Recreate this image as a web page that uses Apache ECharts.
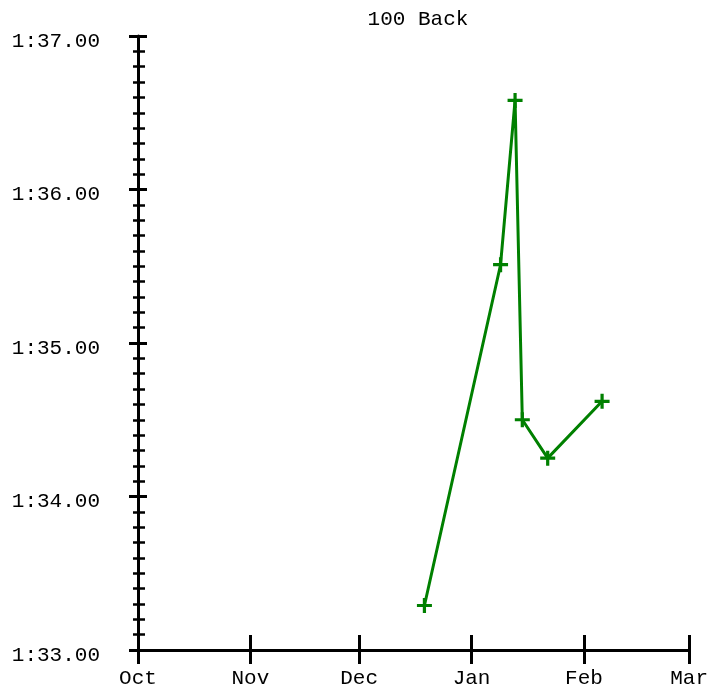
<!DOCTYPE html>
<html>
<head>
<meta charset="utf-8">
<script src="https://cdn.jsdelivr.net/npm/echarts@6/dist/echarts.min.js"></script>
<style>
  html, body { margin: 0; padding: 0; background: #fff; }
  #chart { width: 711px; height: 689px; }
</style>
</head>
<body>
<div id="chart"></div>
<script>
// swim times, seconds (1:33.00 = 93)
var meetDates = ['2023-12-19', '2024-01-09', '2024-01-13', '2024-01-15', '2024-01-22', '2024-02-06'];
var swimTimes = [93.29, 95.51, 96.58, 94.50, 94.25, 94.62];

// axis ticks
var monthLabels = ['Oct', 'Nov', 'Dec', 'Jan', 'Feb', 'Mar'];
var monthStarts = ['2023-10-01', '2023-11-01', '2023-12-01', '2024-01-01', '2024-02-01', '2024-03-01'];
var yTicks = [93, 94, 95, 96, 97];
var yTickLabels = ['1:33.00', '1:34.00', '1:35.00', '1:36.00', '1:37.00'];

// days since the first tick, so the x axis is a plain value axis
function toDay(s) {
    var p = s.split('-');
    var t = Date.UTC(+p[0], +p[1] - 1, +p[2]);
    var q = monthStarts[0].split('-');
    var t0 = Date.UTC(+q[0], +q[1] - 1, +q[2]);
    return Math.round((t - t0) / 86400000);
}

var monthDays = monthStarts.map(toDay);
var seriesData = [];
for (var i = 0; i < meetDates.length; i++) {
    seriesData.push([toDay(meetDates[i]), swimTimes[i]]);
}

var font = '"Liberation Mono", "Courier New", monospace';
var black = '#000';
var plus = 'path://M-1.5,-7 L1.5,-7 L1.5,-1.5 L7,-1.5 L7,1.5 L1.5,1.5 L1.5,7 L-1.5,7 L-1.5,1.5 L-7,1.5 L-7,-1.5 L-1.5,-1.5 Z';

function xLabel(v) {
    var idx = monthDays.indexOf(Math.round(v));
    return idx >= 0 ? monthLabels[idx] : '';
}
function yLabel(v) {
    var idx = yTicks.indexOf(Math.round(v));
    return idx >= 0 ? yTickLabels[idx] : '';
}

var xBase = {
    type: 'value',
    min: monthDays[0],
    max: monthDays[monthDays.length - 1],
    position: 'bottom',
    splitLine: { show: false }
};
var yBase = {
    type: 'value',
    min: yTicks[0],
    max: yTicks[yTicks.length - 1],
    interval: 1,
    position: 'left',
    splitLine: { show: false },
    minorSplitLine: { show: false }
};

var myChart = echarts.init(document.getElementById('chart'));
var option = {
    animation: false,
    backgroundColor: '#fff',
    title: {
        text: '100 Back',
        left: 413,
        top: 4,
        textAlign: 'center',
        textStyle: { fontFamily: font, fontSize: 21, fontWeight: 'normal', color: black }
    },
    grid: { left: 138, right: 21, top: 36, bottom: 37, containLabel: false },
    xAxis: [
        Object.assign({}, xBase, {
            axisLine: { show: true, lineStyle: { color: black, width: 3 } },
            axisTick: { show: true, inside: false, length: 14, lineStyle: { color: black, width: 3 }, customValues: monthDays },
            axisLabel: {
                show: true, margin: 18, color: black, fontFamily: font, fontSize: 21,
                customValues: monthDays, formatter: xLabel, hideOverlap: false
            }
        }),
        Object.assign({}, xBase, {
            axisLine: { show: false },
            axisTick: { show: true, inside: true, length: 15, lineStyle: { color: black, width: 3 }, customValues: monthDays },
            axisLabel: { show: false }
        })
    ],
    yAxis: [
        Object.assign({}, yBase, {
            axisLine: { show: true, lineStyle: { color: black, width: 3 } },
            axisTick: { show: true, inside: false, length: 9, lineStyle: { color: black, width: 3 } },
            minorTick: { show: true, splitNumber: 10, length: 5, lineStyle: { color: black, width: 2.5 } },
            axisLabel: {
                show: true, margin: 38, color: black, fontFamily: font, fontSize: 21,
                formatter: yLabel, verticalAlign: 'top', lineHeight: 10
            }
        }),
        Object.assign({}, yBase, {
            axisLine: { show: false },
            axisTick: { show: true, inside: true, length: 9, lineStyle: { color: black, width: 3 } },
            minorTick: { show: true, splitNumber: 10, length: 7, lineStyle: { color: black, width: 2.5 } },
            axisLabel: { show: false }
        })
    ],
    series: [
        {
            name: '100 Back',
            type: 'line',
            xAxisIndex: 0,
            yAxisIndex: 0,
            data: seriesData,
            symbol: plus,
            symbolSize: 15,
            showSymbol: true,
            lineStyle: { color: '#008000', width: 3 },
            itemStyle: { color: '#008000', borderWidth: 0 }
        }
    ]
};
myChart.setOption(option);
</script>
</body>
</html>
